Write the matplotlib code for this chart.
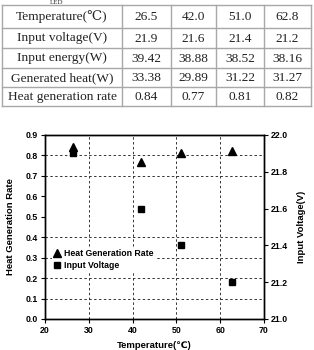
import matplotlib
matplotlib.use("Agg")
import matplotlib.pyplot as plt
from matplotlib.lines import Line2D

# ---- data ----
row_labels = ["Temperature(\u2103)", "Input voltage(V)", "Input energy(W)",
              "Generated heat(W)", "Heat generation rate"]
temperature = [26.5, 42.0, 51.0, 62.8]
input_voltage = [21.9, 21.6, 21.4, 21.2]
input_energy = [39.42, 38.88, 38.52, 38.16]
generated_heat = [33.38, 29.89, 31.22, 31.27]
heat_rate = [0.84, 0.77, 0.81, 0.82]
table_cells = [
    ["26.5", "42.0", "51.0", "62.8"],
    ["21.9", "21.6", "21.4", "21.2"],
    ["39.42", "38.88", "38.52", "38.16"],
    ["33.38", "29.89", "31.22", "31.27"],
    ["0.84", "0.77", "0.81", "0.82"],
]
x_ticks = [20, 30, 40, 50, 60, 70]
left_ticks = [0.0, 0.1, 0.2, 0.3, 0.4, 0.5, 0.6, 0.7, 0.8, 0.9]
right_ticks = [21.0, 21.2, 21.4, 21.6, 21.8, 22.0]
grid_y = [0.1, 0.2, 0.3, 0.4, 0.7, 0.8]
grid_x = [30, 40, 50, 60]

W, H = 314, 350
fig = plt.figure(figsize=(W / 100, H / 100), dpi=100)

serif = ["Liberation Serif", "DejaVu Serif", "DejaVu Sans"]
sans = ["Liberation Sans", "DejaVu Sans"]

# ---- table (pixel coordinate overlay) ----
tab = fig.add_axes([0, 0, 1, 1])
tab.set_xlim(0, W)
tab.set_ylim(H, 0)
tab.axis("off")
col_edges = [2, 122, 171, 216, 264, 311]
row_edges = [5, 28, 48, 68, 87, 106]
gray = "#a8a8a8"
for x in col_edges:
    tab.plot([x, x], [row_edges[0], row_edges[-1]], color=gray, lw=1.0)
for y in row_edges:
    tab.plot([col_edges[0], col_edges[-1]], [y, y], color=gray, lw=1.0)
tab.text(57, 4.6, "LED", family=serif, fontsize=5, ha="center", va="bottom", color="#333333")
for r in range(5):
    yc = (row_edges[r] + row_edges[r + 1]) / 2 + 0.5
    tab.text((col_edges[0] + col_edges[1]) / 2, yc, row_labels[r], family=serif,
             fontsize=9.6, ha="center", va="center", color="#222222")
    for c in range(4):
        xc = (col_edges[c + 1] + col_edges[c + 2]) / 2
        tab.text(xc, yc, table_cells[r][c], family=serif, fontsize=9.6,
                 ha="center", va="center", color="#222222")

# ---- chart ----
ax = fig.add_axes([45 / W, 1 - 319 / H, (264 - 45) / W, (319 - 135) / H])
ax2 = ax.twinx()
ax.set_xlim(20, 70)
ax.set_ylim(0, 0.9)
ax2.set_ylim(21.0, 22.0)

for gy in grid_y:
    ax.axhline(gy, color="#333333", lw=0.7, ls=(0, (2.5, 2.5)), zorder=0)
for gx in grid_x:
    ax.axvline(gx, color="#333333", lw=0.7, ls=(0, (2.5, 2.5)), zorder=0)

ax.plot(temperature, heat_rate, ls="none", marker="^", color="black", ms=5.5, zorder=3)
ax2.plot(temperature, input_voltage, ls="none", marker="s", color="black", ms=4.5, zorder=3)

ax.set_xticks(x_ticks)
ax.set_yticks(left_ticks)
ax.set_yticklabels([f"{v:.1f}" for v in left_ticks])
ax2.set_yticks(right_ticks)
ax2.set_yticklabels([f"{v:.1f}" for v in right_ticks])
for a in (ax, ax2):
    a.tick_params(labelsize=6.3, width=0.8, length=3, direction="out", pad=2)
    for lab in a.get_xticklabels() + a.get_yticklabels():
        lab.set_family(sans)
        lab.set_fontweight("bold")
    for s in a.spines.values():
        s.set_linewidth(1.0)

ax.set_xlabel("Temperature(\u2103)", family=sans, fontweight="bold", fontsize=6.8, labelpad=4)
ax.set_ylabel("Heat Generation Rate", family=sans, fontweight="bold", fontsize=6.8, labelpad=8)
ax2.set_ylabel("Input Voltage(V)", family=sans, fontweight="bold", fontsize=6.8, labelpad=6)

handles = [Line2D([], [], ls="none", marker="^", color="black", ms=5.5),
           Line2D([], [], ls="none", marker="s", color="black", ms=4.5)]
leg = ax2.legend(handles, ["Heat Generation Rate", "Input Voltage"],
                 loc="upper left", bbox_to_anchor=(0.03, 0.39), frameon=True,
                 fancybox=False, framealpha=1, edgecolor="white",
                 prop={"family": sans, "weight": "bold", "size": 6.3},
                 handlelength=0.8, handletextpad=0.4, labelspacing=0.35,
                 borderpad=0.2, borderaxespad=0)
leg.get_frame().set_linewidth(0)

fig.savefig("out.png", dpi=100)
